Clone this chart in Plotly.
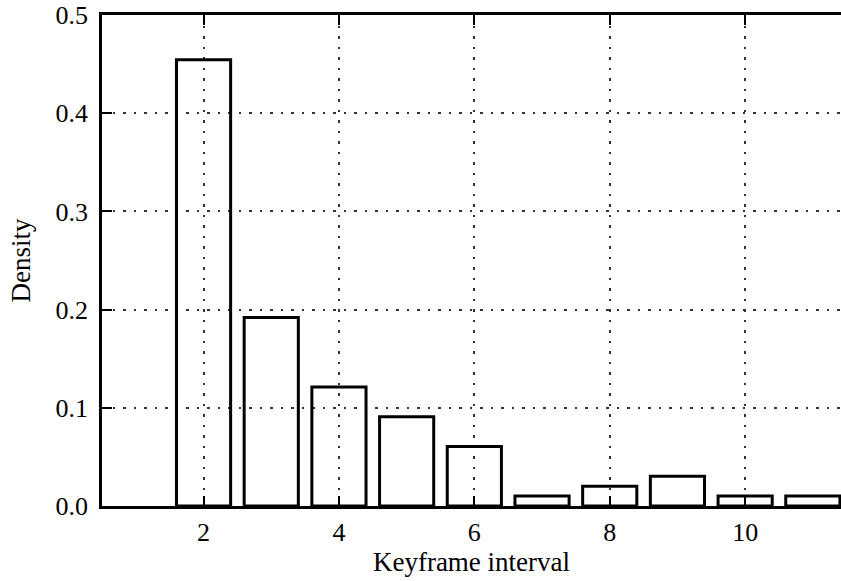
import plotly.graph_objects as go

# Keyframe interval histogram (normalised to density)
intervals = [2, 3, 4, 5, 6, 7, 8, 9, 10, 11]
density = [0.4545, 0.1919, 0.1212, 0.0909, 0.0606, 0.0101, 0.0202, 0.0303, 0.0101, 0.0101]

x_ticks = [2, 4, 6, 8, 10]
y_ticks = [0.0, 0.1, 0.2, 0.3, 0.4, 0.5]
y_tick_text = ["0.0", "0.1", "0.2", "0.3", "0.4", "0.5"]

FONT = "Liberation Serif"
GRID_DASH = "2.5px,8px"

fig = go.Figure(
    go.Bar(
        x=intervals,
        y=density,
        width=0.8,
        marker=dict(color="rgba(0,0,0,0)", line=dict(color="black", width=3)),
    )
)

fig.update_layout(
    width=841,
    height=581,
    margin=dict(l=102, r=0, t=15, b=75),
    plot_bgcolor="white",
    paper_bgcolor="white",
    showlegend=False,
    font=dict(family=FONT, size=26, color="black"),
)

fig.update_xaxes(
    range=[0.5, 11.416],
    tickvals=x_ticks,
    ticktext=[str(v) for v in x_ticks],
    tickfont=dict(family=FONT, size=26),
    ticks="inside",
    ticklen=10,
    tickwidth=1.5,
    tickcolor="black",
    showline=True,
    linecolor="black",
    linewidth=2.5,
    mirror="ticks",
    showgrid=True,
    gridcolor="#333333",
    gridwidth=1.5,
    griddash=GRID_DASH,
    zeroline=False,
    ticklabelstandoff=1,
    title=dict(text="Keyframe interval", font=dict(family=FONT, size=27), standoff=2),
)

fig.update_yaxes(
    range=[0, 0.5],
    tickvals=y_ticks,
    ticktext=y_tick_text,
    tickfont=dict(family=FONT, size=26),
    ticks="inside",
    ticklen=10,
    tickwidth=1.5,
    tickcolor="black",
    showline=True,
    linecolor="black",
    linewidth=2.5,
    mirror=False,
    showgrid=True,
    gridcolor="#333333",
    gridwidth=1.5,
    griddash=GRID_DASH,
    zeroline=False,
    ticklabelstandoff=6,
    title=dict(text="Density", font=dict(family=FONT, size=27), standoff=18),
)

fig.write_html("out.html")
